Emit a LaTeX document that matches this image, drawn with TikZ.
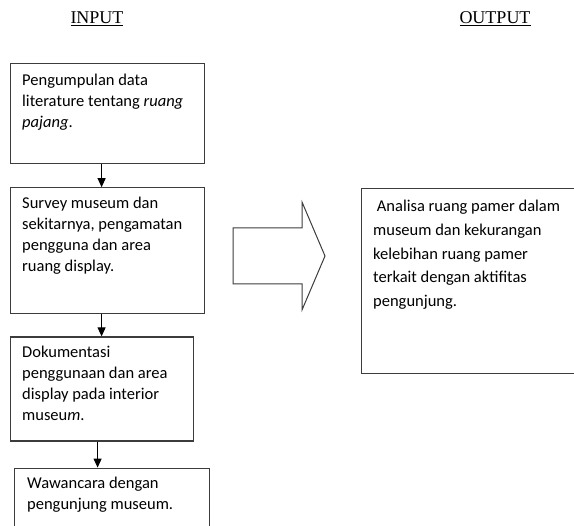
\documentclass[tikz,border=0pt]{standalone}
\usepackage{fontspec}
\setmainfont{Carlito}
\newfontfamily\judulfont{Liberation Serif}
\usetikzlibrary{arrows.meta,positioning}
\definecolor{garis}{HTML}{3C3C3C}

\begin{document}
\begin{tikzpicture}[x=1pt,y=-1pt,
    kotak/.style={draw=garis, line width=1.2pt, inner sep=0pt},
    isi/.style={anchor=north west, inner sep=0pt, align=left, font=\fontsize{16.5}{21}\selectfont},
    judul/.style={anchor=base, inner sep=0pt, font=\judulfont\fontsize{18}{20}\selectfont},
    panah/.style={-{Triangle[length=9pt,width=8pt]}, draw=black, line width=1pt}
  ]
  \clip (0,0) rectangle (574,526);

  \node[judul] (inp) at (97,24) {\underline{INPUT}};
  \node[judul] (outp) at (495,24) {\underline{OUTPUT}};

  % input boxes
  \node[kotak, anchor=north west, minimum width=194pt, minimum height=100pt] (k1) at (10,63) {};
  \node[kotak, minimum width=194pt, minimum height=126pt, below=23pt of k1.south west, anchor=north west] (k2) {};
  \node[kotak, minimum width=183pt, minimum height=104pt, below=22pt of k2.south west, anchor=north west] (k3) {};
  \node[kotak, minimum width=195pt, minimum height=90pt, below right=26pt and 4pt of k3.south west, anchor=north west] (k4) {};

  \node[isi, below right=8pt and 12pt of k1.north west] (t1) {\strut Pengumpulan data\\literature tentang \textit{ruang}\\\textit{pajang}.};
  \node[isi, below right=6pt and 12pt of k2.north west] (t2) {\strut Survey museum dan\\sekitarnya, pengamatan\\pengguna dan area\\ruang display.};
  \node[isi, below right=6pt and 12pt of k3.north west] (t3) {\strut Dokumentasi\\penggunaan dan area\\display pada interior\\museu\textit{m}.};
  \node[isi, below right=6pt and 13pt of k4.north west] (t4) {\strut Wawancara dengan\\pengunjung museum.};

  % output box
  \node[kotak, anchor=north west, minimum width=240pt, minimum height=185pt] (k5) at (361,188) {};
  \node[isi, font=\fontsize{16.5}{23.7}\selectfont, below right=7pt and 12pt of k5.north west] (t5) {\strut\ Analisa ruang pamer dalam\\museum dan kekurangan\\kelebihan ruang pamer\\terkait dengan aktifitas\\pengunjung.};

  % big arrow
  \draw[draw=garis, line width=1pt] (233,228) -- (302,228) -- (302,202) -- (325,256) -- (302,310) -- (302,284) -- (233,284) -- cycle;

  \draw[panah] ([xshift=-6pt]k1.south) -- ([xshift=-6pt]k1.south |- k2.north);
  \draw[panah] ([xshift=-6pt]k2.south) -- ([xshift=-6pt]k2.south |- k3.north);
  \draw[panah] ([xshift=-4.5pt]k3.south) -- ([xshift=-4.5pt]k3.south |- k4.north);
\end{tikzpicture}
\end{document}
